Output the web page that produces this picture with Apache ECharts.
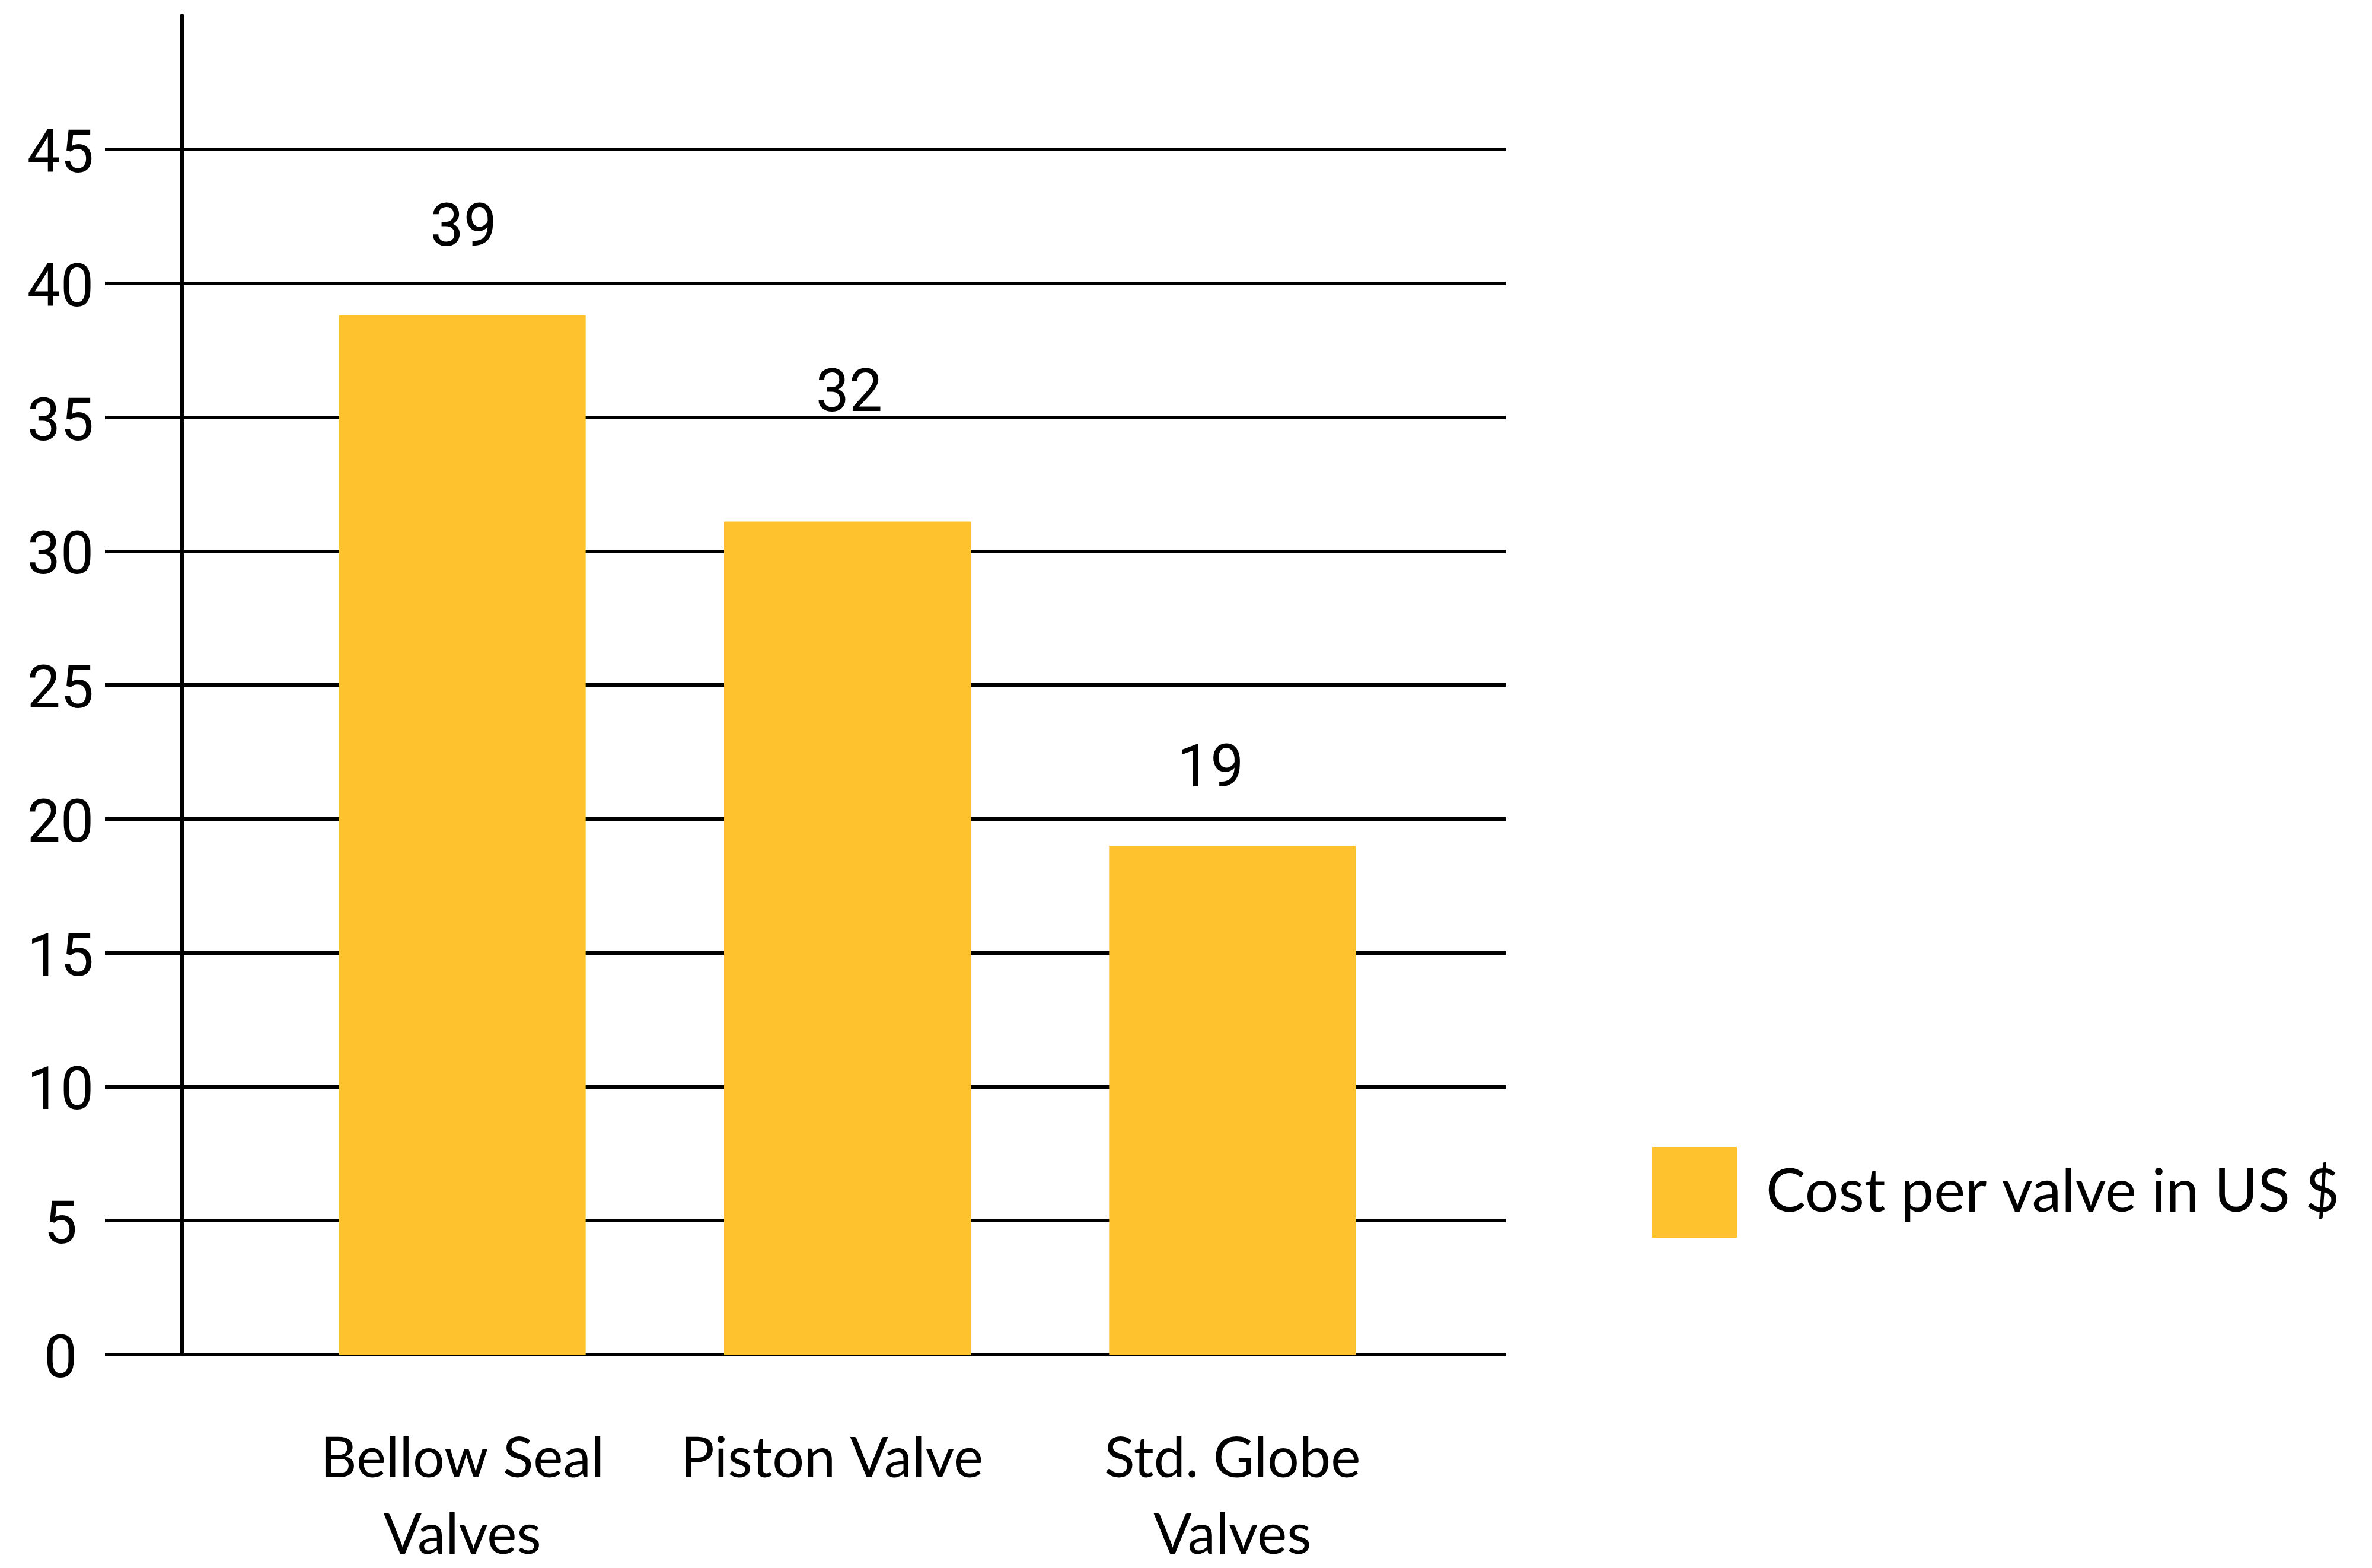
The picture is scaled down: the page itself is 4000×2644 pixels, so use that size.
<!DOCTYPE html>
<html>
<head>
<meta charset="utf-8">
<script src="https://cdn.jsdelivr.net/npm/echarts@6/dist/echarts.min.js"></script>
<style>
  html, body { margin: 0; padding: 0; background: #fff; }
  #chart { width: 4000px; height: 2644px; }
</style>
</head>
<body>
<div id="chart"></div>
<script>
// values
const categories = ['Bellow Seal\nValves', 'Piston Valve', 'Std. Globe\nValves']
const costs = [38.8, 31.1, 19.0]
const costLabels = [39, 32, 19]
const seriesName = 'Cost per valve in US $'

// label nudges (px) relative to the top of each bar
const labelOffsets = [[2, -143], [3, -212], [-37, -125]]
const catPadding = [[0, 0, 0, 0], [0, 52, 0, 0], [0, 0, 0, 0]]

const numFont = 'Roboto'
const textFont = 'Lato'
const yellow = '#FDC22E'

const chart = echarts.init(document.getElementById('chart'))

chart.setOption({
  animation: false,
  backgroundColor: '#fff',
  grid: [
    // grid lines + tick labels
    { left: 177, right: 1461, top: 252, bottom: 360, outerBoundsMode: 'none' },
    // bars + vertical axis line
    { left: 455, right: 1597, top: 26, bottom: 360, outerBoundsMode: 'none' },
  ],
  legend: {
    left: 2781,
    top: 1929,
    itemWidth: 143,
    itemHeight: 153,
    icon: 'rect',
    selectedMode: false,
    data: [seriesName],
    textStyle: {
      fontFamily: textFont,
      fontSize: 100,
      color: '#000',
      padding: [0, 0, 0, 44],
    },
  },
  xAxis: [
    { gridIndex: 0, type: 'value', min: 0, max: 1, show: false },
    {
      gridIndex: 1,
      type: 'category',
      data: categories.map((c, i) => ({
        value: c,
        textStyle: { padding: catPadding[i] },
      })),
      axisLine: { show: false },
      axisTick: { show: false },
      axisLabel: {
        interval: 0,
        margin: 112,
        fontFamily: textFont,
        fontSize: 95,
        lineHeight: 129,
        color: '#000',
      },
    },
  ],
  yAxis: [
    {
      gridIndex: 0,
      type: 'value',
      min: 0,
      max: 45,
      interval: 5,
      axisLine: { show: false },
      axisTick: { show: false },
      axisLabel: {
        margin: 75,
        align: 'center',
        formatter: '{t|{value}}',
        rich: {
          t: {
            fontFamily: numFont,
            fontSize: 100,
            color: '#000',
            padding: [26, 0, 0, 0],
          },
        },
      },
      splitLine: { lineStyle: { color: '#000', width: 6 } },
    },
    {
      gridIndex: 1,
      type: 'value',
      min: 0,
      max: 50,
      position: 'left',
      offset: 148,
      axisLine: { show: true, lineStyle: { color: '#000', width: 6 } },
      axisTick: { show: false },
      axisLabel: { show: false },
      splitLine: { show: false },
    },
  ],
  series: [
    {
      name: seriesName,
      type: 'bar',
      xAxisIndex: 1,
      yAxisIndex: 1,
      barWidth: 416,
      itemStyle: { color: yellow },
      data: costs.map((v, i) => ({
        value: v,
        label: {
          show: true,
          position: 'top',
          distance: 0,
          verticalAlign: 'middle',
          offset: labelOffsets[i],
          formatter: String(costLabels[i]),
          fontFamily: numFont,
          fontSize: 100,
          color: '#000',
        },
      })),
    },
  ],
})
</script>
</body>
</html>
